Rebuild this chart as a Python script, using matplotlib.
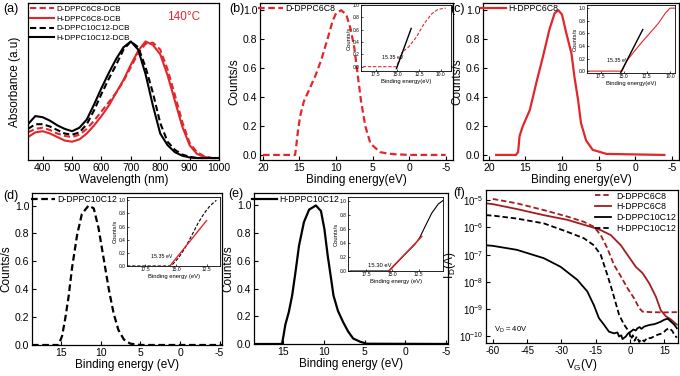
import numpy as np
import matplotlib
matplotlib.use("Agg")
import matplotlib.pyplot as plt
from matplotlib.ticker import FormatStrFormatter

plt.rcParams['font.family'] = ['Liberation Sans', 'DejaVu Sans']
plt.rcParams['axes.unicode_minus'] = False
plt.rcParams['mathtext.fontset'] = 'custom'
plt.rcParams['mathtext.rm'] = 'Liberation Sans'
plt.rcParams['mathtext.default'] = 'regular'

# ---- (a) UV-vis absorbance, normalised ----
wavelength = [350, 375, 400, 425, 450, 475, 500, 525, 550, 575, 600, 625, 650, 675,
              700, 725, 750, 775, 800, 825, 850, 875, 900, 925, 950, 975, 1000]
abs_d_c6c8 = [0.22, 0.25, 0.26, 0.24, 0.21, 0.19, 0.18, 0.20, 0.25, 0.32, 0.40, 0.48, 0.56, 0.66,
              0.78, 0.90, 0.98, 0.99, 0.93, 0.76, 0.54, 0.31, 0.13, 0.05, 0.015, 0.0, 0.0]
abs_h_c6c8 = [0.18, 0.22, 0.23, 0.21, 0.18, 0.15, 0.14, 0.16, 0.21, 0.28, 0.36, 0.45, 0.56, 0.67,
              0.80, 0.92, 1.00, 0.97, 0.89, 0.71, 0.49, 0.27, 0.11, 0.035, 0.01, 0.0, 0.0]
abs_d_c10c12 = [0.25, 0.29, 0.29, 0.27, 0.24, 0.21, 0.20, 0.22, 0.29, 0.41, 0.55, 0.68, 0.80, 0.93,
                1.00, 0.95, 0.78, 0.56, 0.30, 0.14, 0.07, 0.03, 0.01, 0.0, 0.0, 0.0, 0.0]
abs_h_c10c12 = [0.29, 0.36, 0.35, 0.32, 0.28, 0.25, 0.23, 0.26, 0.33, 0.46, 0.60, 0.73, 0.85, 0.95,
                1.00, 0.93, 0.72, 0.45, 0.21, 0.11, 0.05, 0.02, 0.005, 0.0, 0.0, 0.0, 0.0]
legend_a = ['D-DPPC6C8-DCB', 'H-DPPC6C8-DCB', 'D-DPPC10C12-DCB', 'H-DPPC10C12-DCB']

# ---- (b) UPS D-DPPC6C8 ----
be_b = [20, 15.6, 15.4, 15.2, 14.9, 14.4, 13.5, 12.8, 12, 11, 10.5, 10, 9.3, 8.6, 8, 7.5, 7.1,
        6.6, 6, 5.3, 4, 3, 2, 0, -5]
cnt_b = [0, 0, 0.08, 0.17, 0.27, 0.37, 0.47, 0.55, 0.66, 0.83, 0.92, 0.98, 1.0, 0.97, 0.87, 0.74,
         0.58, 0.38, 0.2, 0.08, 0.02, 0.01, 0.005, 0, 0]
ins_be_b = [19, 17, 15.1, 14.4, 13.7, 12.8, 11.9, 11.0, 10.3, 9.4]
ins_cnt_b = [0, 0, 0, 0.24, 0.32, 0.48, 0.70, 0.86, 0.93, 0.95]
tan_be_b = [15.1, 13.4]
tan_cnt_b = [-0.03, 0.62]

# ---- (c) UPS H-DPPC6C8 ----
be_c = [19.0, 16.3, 16.0, 15.8, 15.35, 14.4, 13.5, 12.6, 11.7, 11.0, 10.5, 10.0, 9.4, 8.7, 8.3,
        7.8, 7.4, 6.7, 5.8, 3.9, -4.0]
cnt_c = [0, 0, 0.02, 0.13, 0.2, 0.31, 0.5, 0.68, 0.87, 0.98, 1.0, 0.97, 0.84, 0.7, 0.54, 0.38,
         0.22, 0.1, 0.035, 0.007, 0]
ins_be_c = [19, 17, 15.2, 14.7, 14.0, 13.1, 12.2, 11.25, 10.5, 10.0, 9.5]
ins_cnt_c = [0, 0, 0, 0.16, 0.29, 0.45, 0.60, 0.76, 0.92, 1.0, 1.0]
tan_be_c = [15.33, 12.95]
tan_cnt_c = [-0.02, 0.66]

# ---- (d) UPS D-DPPC10C12 ----
be_d = [18.7, 15.34, 14.9, 14.5, 14.07, 13.65, 13.0, 12.4, 11.55, 10.9, 10.3, 9.65, 9.0, 8.4,
        7.8, 7.1, 6.3, 5.0, -5.3]
cnt_d = [0, 0, 0.065, 0.19, 0.35, 0.55, 0.79, 0.94, 1.0, 0.98, 0.84, 0.62, 0.4, 0.23, 0.11,
         0.04, 0.01, 0, 0]
ins_be_d = [19, 17, 15.4, 14.8, 14.3, 13.75, 13.2, 12.7, 12.2, 11.7]
ins_cnt_d = [0, 0, 0, 0.12, 0.26, 0.45, 0.65, 0.80, 0.92, 1.0]
tan_be_d = [15.5, 12.5]
tan_cnt_d = [0.0, 0.69]

# ---- (e) UPS H-DPPC10C12 ----
be_e = [18.5, 15.08, 14.88, 14.67, 14.25, 13.84, 13.43, 13.0, 12.4, 11.77, 10.94, 10.32, 9.9,
        9.5, 9.08, 8.79, 8.25, 7.63, 7.0, 6.39, 5.56, 4.73, -5.5]
cnt_e = [0, 0, 0.065, 0.14, 0.23, 0.35, 0.52, 0.71, 0.88, 0.97, 1.0, 0.96, 0.83, 0.64, 0.47,
         0.35, 0.24, 0.16, 0.09, 0.04, 0.017, 0.002, 0]
ins_be_e = [19, 17, 15.3, 14.1, 12.85, 12.38, 11.9, 11.27, 10.65, 10.2]
ins_cnt_e = [0, 0, 0, 0.19, 0.38, 0.48, 0.63, 0.82, 0.95, 1.0]
tan_be_e = [15.5, 12.2]
tan_cnt_e = [-0.02, 0.49]

# ---- (f) transfer curves ----
vg_d_c6c8 = [-60, -49.5, -37.7, -27.5, -20.2, -15.8, -12.8, -9.9, -7.0, -4.0, -1.1, 1.8, 4.0,
             5.5, 9.1, 15, 20.5]
id_d_c6c8 = [1.1e-5, 7.6e-6, 4.3e-6, 2.5e-6, 1.6e-6, 1.05e-6, 5.2e-7, 1.7e-7, 4.2e-8, 1.6e-8,
             5.9e-9, 2.5e-9, 1.1e-9, 8.1e-10, 7.8e-10, 7.6e-10, 7.8e-10]
vg_h_c6c8 = [-63, -60, -49.5, -37.7, -27.5, -17.2, -12.8, -8.4, -4.0, -1.1, 2.5, 5.5, 8.4, 11.3,
             13.5, 15.7, 17.9, 20.5]
id_h_c6c8 = [7.6e-6, 7.1e-6, 4.7e-6, 2.8e-6, 1.9e-6, 1.05e-6, 7.9e-7, 5.2e-7, 2.2e-7, 9.8e-8,
             3.6e-8, 2.1e-8, 8.9e-9, 2.9e-9, 9e-10, 5.5e-10, 4.2e-10, 2.7e-10]
vg_d_c10c12 = [-63, -60, -49.5, -37.7, -30.4, -23.1, -18.7, -15.8, -13.6, -11.4, -9.2, -7.0, -5.5,
               -4.8, -3.8, -3.3, -2.5, -1.8, -1.0, 0.35, 1.5, 2.5, 3.3, 4.2, 5.0, 6.2, 7.5, 9.1,
               10.5, 12, 13.5, 15, 16.5, 17.9, 19.2, 20.5]
id_d_c10c12 = [2.2e-7, 2.1e-7, 1.5e-7, 7.4e-8, 3.6e-8, 1.2e-8, 4.5e-9, 1.4e-9, 4.7e-10, 2.7e-10,
               1.5e-10, 1.3e-10, 1.4e-10, 1e-10, 1.1e-10, 8e-11, 9e-11, 1e-10, 1.25e-10, 1.5e-10,
               1.8e-10, 1.65e-10, 2e-10, 2.2e-10, 1.9e-10, 2.3e-10, 2.5e-10, 2.7e-10, 2.8e-10,
               3.1e-10, 3.5e-10, 4.1e-10, 4.5e-10, 3.5e-10, 2.8e-10, 2e-10]
vg_h_c10c12 = [-63, -60, -49.5, -37.7, -27.5, -20.2, -15.8, -12.8, -9.9, -7.7, -4.8, -2.6, -0.4,
               0.4, 1.2, 2.0, 3.0, 4.0, 5.0, 6.2, 7.5, 9.1, 10.5, 12, 13.5, 15, 16, 17.2, 18.5,
               19.4, 20.5]
id_h_c10c12 = [2.8e-6, 2.7e-6, 2.1e-6, 1.4e-6, 6.9e-7, 4.0e-7, 2.2e-7, 9.8e-8, 1.8e-8, 4.5e-9,
               6.3e-10, 2.7e-10, 1.5e-10, 8e-11, 1.1e-10, 7e-11, 1e-10, 6.3e-11, 8e-11, 6.6e-11,
               8.9e-11, 8.7e-11, 1e-10, 1.15e-10, 1.25e-10, 1.5e-10, 1.8e-10, 2e-10, 1.6e-10,
               1.15e-10, 9e-11]
legend_f = ['D-DPPC6C8', 'H-DPPC6C8', 'D-DPPC10C12', 'H-DPPC10C12']

RED = '#e3262c'
DARKRED = '#a31c1f'
DASH = (3.0, 1.6)
W, H = 680.0, 376.0
LABEL_FS = 8.5
TICK_FS = 7.5
LEG_FS = 6.3


def box(l, t, r, b):
    """pixel box -> figure fraction rect"""
    return [l / W, 1 - b / H, (r - l) / W, (b - t) / H]


def style(ax, size=TICK_FS):
    ax.tick_params(direction='in', length=3, width=0.8, labelsize=size, pad=2)
    for s in ax.spines.values():
        s.set_linewidth(0.9)


def line(ax, x, y, color, ls, lw, label=None):
    if ls == '--':
        return ax.plot(x, y, color=color, ls='--', dashes=DASH, lw=lw, label=label)
    return ax.plot(x, y, color=color, ls='-', lw=lw, label=label)


def ups_panel(ax, x, y, color, ls, label, xticks, xlim, ylim, xlabel):
    line(ax, x, y, color, ls, 1.6, label)
    ax.set_xticks(xticks)
    ax.set_yticks([0, 0.2, 0.4, 0.6, 0.8, 1.0])
    ax.set_xlim(*xlim)
    ax.set_ylim(*ylim)
    ax.yaxis.set_major_formatter(FormatStrFormatter('%.1f'))
    ax.set_xlabel(xlabel, fontsize=LABEL_FS, labelpad=1)
    ax.set_ylabel('Counts/s', fontsize=LABEL_FS, labelpad=2)
    style(ax)
    ax.legend(loc='upper left', bbox_to_anchor=(-0.04, 1.03), frameon=False, fontsize=LEG_FS,
              handlelength=2.8, handletextpad=0.3, borderpad=0.2)


def inset(rect, x, y, color, ls, tx, ty, tcolor, xlabel, xticks, xlim, ylim):
    ax = fig.add_axes(rect)
    line(ax, x, y, color, ls, 0.8)
    ax.plot(tx, ty, color=tcolor, lw=1.0)
    ax.set_xticks(xticks)
    ax.set_yticks([0, 0.2, 0.4, 0.6, 0.8, 1.0])
    ax.set_xlim(*xlim)
    ax.set_ylim(*ylim)
    ax.xaxis.set_major_formatter(FormatStrFormatter('%.1f'))
    ax.yaxis.set_major_formatter(FormatStrFormatter('%.1f'))
    ax.tick_params(direction='in', length=1.5, width=0.5, labelsize=3.5, pad=1)
    for s in ax.spines.values():
        s.set_linewidth(0.6)
    ax.set_xlabel(xlabel, fontsize=4.2, labelpad=1)
    ax.set_ylabel('Counts/s', fontsize=4.2, labelpad=0.5)
    return ax


fig = plt.figure(figsize=(6.8, 3.76), dpi=100)

# (a)
ax = fig.add_axes(box(28, 3, 219, 160))
line(ax, wavelength, abs_d_c6c8, RED, '--', 1.5, legend_a[0])
line(ax, wavelength, abs_h_c6c8, RED, '-', 1.5, legend_a[1])
line(ax, wavelength, abs_d_c10c12, 'black', '--', 1.5, legend_a[2])
line(ax, wavelength, abs_h_c10c12, 'black', '-', 1.5, legend_a[3])
ax.set_xticks([400, 500, 600, 700, 800, 900, 1000])
ax.set_yticks([])
ax.set_xlim(350, 1000)
ax.set_ylim(-0.017, 1.33)
ax.set_xlabel('Wavelength (nm)', fontsize=LABEL_FS, labelpad=1)
ax.set_ylabel('Absorbance (a.u)', fontsize=LABEL_FS, labelpad=5)
style(ax)
ax.legend(loc='upper left', bbox_to_anchor=(-0.02, 1.02), frameon=False, fontsize=5.8,
          handlelength=3.0, handletextpad=0.3, labelspacing=0.25, borderpad=0.2)
ax.text(0.73, 0.89, '140\u00b0C', color=RED, fontsize=8.5, transform=ax.transAxes)

ebin = [20, 15, 10, 5, 0, -5]
ins_ticks = [17.5, 15.0, 12.5, 10.0]

# (b)
ax = fig.add_axes(box(260, 3, 453, 160))
ups_panel(ax, be_b, cnt_b, RED, '--', 'D-DPPC6C8', ebin, (20.4, -6), (-0.035, 1.05),
          'Binding energy(eV)')
ia = inset(box(361, 5, 451, 71), ins_be_b, ins_cnt_b, RED, '--', tan_be_b, tan_cnt_b, 'black',
           'Binding energy(eV)', ins_ticks, (19.2, 8.8), (-0.07, 1.0))
ia.text(16.8, 0.13, '15.35 eV', fontsize=3.8)

# (c)
ax = fig.add_axes(box(483, 3, 679, 160))
ups_panel(ax, be_c, cnt_c, RED, '-', 'H-DPPC6C8', ebin, (20.8, -6), (-0.035, 1.05),
          'Binding energy(eV)')
ia = inset(box(587, 5, 675, 73), ins_be_c, ins_cnt_c, RED, '-', tan_be_c, tan_cnt_c, 'black',
           'Binding energy(eV)', ins_ticks, (19.0, 9.45), (-0.03, 1.05))
ia.text(16.8, 0.15, '15.35 eV', fontsize=3.8)

# (d)
ax = fig.add_axes(box(32, 193, 222, 345))
ups_panel(ax, be_d, cnt_d, 'black', '--', 'D-DPPC10C12', ebin[1:], (18.7, -5.3), (0, 1.09),
          'Binding energy (eV)')
ia = inset(box(127, 197, 220, 266), ins_be_d, ins_cnt_d, 'black', '--', tan_be_d, tan_cnt_d, RED,
           'Binding energy (eV)', ins_ticks[:3], (19.0, 11.4), (0, 1.05))
ia.text(17.0, 0.12, '15.35 eV', fontsize=3.8)

# (e)
ax = fig.add_axes(box(254, 193, 448, 344))
ups_panel(ax, be_e, cnt_e, 'black', '-', 'H-DPPC10C12', ebin[1:], (18.5, -5.2), (0, 1.09),
          'Binding energy (eV)')
ia = inset(box(348, 197, 443, 271), ins_be_e, ins_cnt_e, 'black', '-', tan_be_e, tan_cnt_e, RED,
           'Binding energy (eV)', ins_ticks[:3], (19.2, 10.2), (0, 1.05))
ia.text(17.3, 0.06, '15.30 eV', fontsize=4.2)

# (f)
ax = fig.add_axes(box(486, 190, 678, 343))
line(ax, vg_d_c6c8, id_d_c6c8, DARKRED, '--', 1.3, legend_f[0])
line(ax, vg_h_c6c8, id_h_c6c8, DARKRED, '-', 1.3, legend_f[1])
line(ax, vg_d_c10c12, id_d_c10c12, 'black', '-', 1.3, legend_f[2])
line(ax, vg_h_c10c12, id_h_c10c12, 'black', '--', 1.3, legend_f[3])
ax.set_yscale('log')
ax.set_xticks([-60, -45, -30, -15, 0, 15])
ax.set_yticks([1e-10, 1e-9, 1e-8, 1e-7, 1e-6, 1e-5])
ax.set_xlim(-63, 21)
ax.set_ylim(10 ** -10.24, 10 ** -4.63)
ax.minorticks_off()
ax.set_xlabel('V$_G$(V)', fontsize=LABEL_FS, labelpad=1)
ax.set_ylabel('-I$_D$(A)', fontsize=LABEL_FS, labelpad=1)
style(ax, 7)
ax.legend(loc='upper right', bbox_to_anchor=(1.02, 1.03), frameon=False, fontsize=LEG_FS,
          handlelength=1.9, handletextpad=0.5, labelspacing=0.2, borderpad=0.2)
ax.text(0.04, 0.07, 'V$_D$ = 40V', fontsize=5.5, transform=ax.transAxes)

# panel letters
for lab, x, y in [('(a)', 3, 12), ('(b)', 229, 12), ('(c)', 450, 12),
                  ('(d)', 3, 199), ('(e)', 228, 197), ('(f)', 453, 196)]:
    fig.text(x / W, 1 - y / H, lab, fontsize=9)

fig.savefig('out.png', dpi=100)
